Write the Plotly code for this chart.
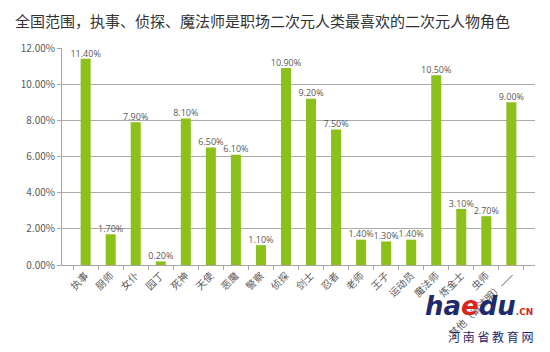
import plotly.graph_objects as go

categories = ["执事", "厨师", "女仆", "园丁", "死神", "天使", "恶魔", "警察", "侦探",
              "剑士", "忍者", "老师", "王子", "运动员", "魔法师", "炼金士", "虫师", "其他（请注明）——"]
values = [11.40, 1.70, 7.90, 0.20, 8.10, 6.50, 6.10, 1.10, 10.90,
          9.20, 7.50, 1.40, 1.30, 1.40, 10.50, 3.10, 2.70, 9.00]
y_ticks = [0, 2, 4, 6, 8, 10, 12]
y_tick_labels = ["0.00%", "2.00%", "4.00%", "6.00%", "8.00%", "10.00%", "12.00%"]

font_family = "Noto Sans CJK SC, Noto Sans, sans-serif"

fig = go.Figure()
fig.add_trace(go.Bar(
    x=categories, y=values,
    marker=dict(color="#8CC01A", line=dict(width=0)),
    hoverinfo="skip",
))
fig.add_trace(go.Scatter(
    x=categories, y=values,
    mode="text",
    text=[f"{v:.2f}%" for v in values],
    textposition="top center",
    textfont=dict(size=9, color="#595959", family="Open Sans, Noto Sans, sans-serif"),
    cliponaxis=False,
))

plot_h = 352 - 48 - 75
plot_w = 550 - 62 - 15

fig.update_layout(
    width=550, height=352,
    margin=dict(l=62, r=15, t=48, b=75),
    paper_bgcolor="white", plot_bgcolor="white",
    bargap=0.6,
    showlegend=False,
    font=dict(family=font_family, color="#595959", size=10),
    annotations=[
        dict(text="全国范围，执事、侦探、魔法师是职场二次元人类最喜欢的二次元人物角色",
             x=(13 - 62) / plot_w, y=1 + (48 - 6) / plot_h, xref="paper", yref="paper", showarrow=False,
             xanchor="left", yanchor="top",
             font=dict(size=15, color="#333333", family=font_family)),
        dict(text="<b><i>ha<span style='color:#D9261C'>e</span>du</i></b><span style='font-size:9px;color:#D9261C'><b>.CN</b></span>",
             x=1.0, y=-0.11, xref="paper", yref="paper", showarrow=False,
             xanchor="right", yanchor="top",
             font=dict(size=26, color="#1E2A6B", family="DejaVu Sans, sans-serif")),
        dict(text="河 南 省 教 育 网",
             x=1.0, y=-0.28, xref="paper", yref="paper", showarrow=False,
             xanchor="right", yanchor="top",
             font=dict(size=12, color="#1E2A6B", family=font_family)),
    ],
)

fig.update_xaxes(
    tickangle=-45, tickfont=dict(size=10, color="#595959"),
    showline=True, linecolor="#A6A6A6", linewidth=1,
    ticks="outside", ticklen=4, tickcolor="#A6A6A6",
    tickson="boundaries", showgrid=False,
)
fig.update_yaxes(
    range=[0, 12], tickvals=y_ticks, ticktext=y_tick_labels,
    tickfont=dict(size=10, color="#595959"),
    showgrid=True, gridcolor="#ABABAB", gridwidth=1,
    showline=True, linecolor="#A6A6A6", linewidth=1,
    ticks="outside", ticklen=4, tickcolor="#A6A6A6",
    zeroline=False,
)

fig.write_html("out.html")
